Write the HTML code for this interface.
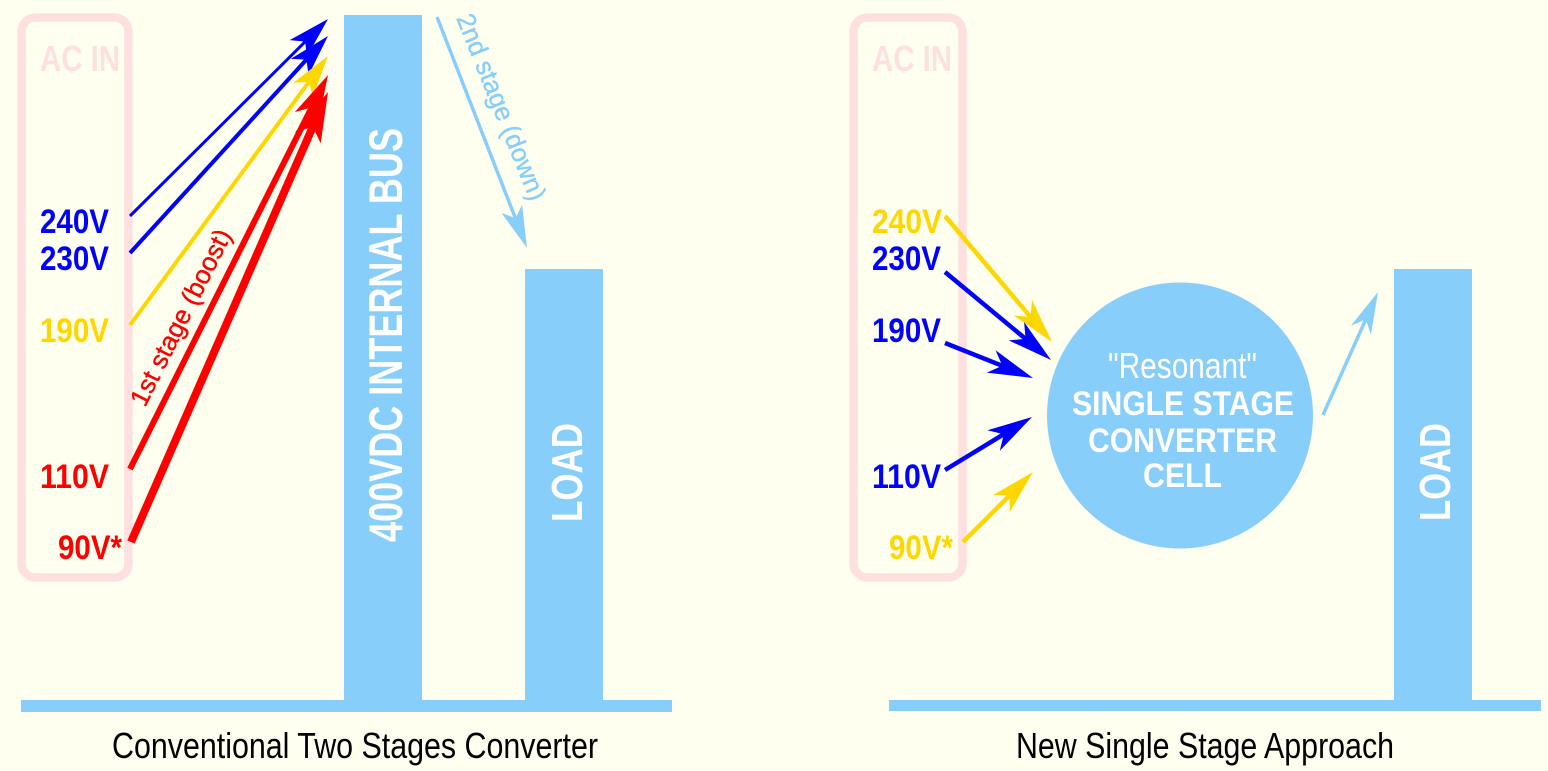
<!DOCTYPE html>
<html>
<head>
<meta charset="utf-8">
<style>
html,body{margin:0;padding:0;background:#FFFFF0;}
svg{display:block;}
text{font-family:"Liberation Sans",Arial,sans-serif;}
</style>
</head>
<body>
<svg width="1548" height="771" viewBox="0 0 1548 771" xmlns="http://www.w3.org/2000/svg">
<rect x="0" y="0" width="1548" height="771" fill="#FFFFF0"/>

<!-- ===== LEFT PANEL ===== -->
<rect x="21.5" y="17.5" width="107" height="560" rx="14" ry="14" fill="none" stroke="#FFE0E0" stroke-width="8.5"/>
<text x="40" y="71" font-size="36" font-weight="bold" fill="#FFE0E0" textLength="80" lengthAdjust="spacingAndGlyphs">AC IN</text>

<rect x="21" y="700" width="651" height="12" fill="#87CEFA"/>
<rect x="344" y="15" width="78" height="690" fill="#87CEFA"/>
<rect x="525" y="269" width="78" height="436" fill="#87CEFA"/>
<text transform="translate(402,542) rotate(-90)" x="0" y="0" font-size="47" font-weight="bold" fill="#FFFFFF" textLength="414" lengthAdjust="spacingAndGlyphs">400VDC INTERNAL BUS</text>
<text transform="translate(582,522) rotate(-90)" x="0" y="0" font-size="44" font-weight="bold" fill="#FFFFFF" textLength="99" lengthAdjust="spacingAndGlyphs">LOAD</text>

<text x="40" y="233" font-size="34" font-weight="bold" fill="#0000FF" textLength="69" lengthAdjust="spacingAndGlyphs">240V</text>
<text x="40" y="270" font-size="34" font-weight="bold" fill="#0000FF" textLength="69" lengthAdjust="spacingAndGlyphs">230V</text>
<text x="40" y="342" font-size="34" font-weight="bold" fill="#FFD700" textLength="69" lengthAdjust="spacingAndGlyphs">190V</text>
<text x="40" y="488" font-size="34" font-weight="bold" fill="#FF0000" textLength="69" lengthAdjust="spacingAndGlyphs">110V</text>
<text x="58" y="559" font-size="34" font-weight="bold" fill="#FF0000" textLength="64" lengthAdjust="spacingAndGlyphs">90V*</text>

<line x1="130" y1="216" x2="305.3" y2="41.6" stroke="#0000FF" stroke-width="3"/>
<polygon points="328,19 289.7,40.1 305.3,41.6 306.7,57.1" fill="#0000FF"/>

<line x1="130" y1="253" x2="306.4" y2="59.6" stroke="#0000FF" stroke-width="4"/>
<polygon points="328,36 290.8,58.9 306.4,59.6 308.6,75.1" fill="#0000FF"/>

<line x1="130" y1="325" x2="309" y2="81.8" stroke="#FFD700" stroke-width="4"/>
<polygon points="328,56 293.4,82.7 309,81.8 312.8,96.9" fill="#FFD700"/>

<line x1="130" y1="469" x2="311.8" y2="107.2" stroke="#FF0000" stroke-width="6"/>
<polygon points="328,75 294.8,112.1 311.8,107.2 318,123.7" fill="#FF0000"/>

<line x1="131" y1="542" x2="312.8" y2="126.8" stroke="#FF0000" stroke-width="8"/>
<polygon points="328,92 295.1,132.2 312.8,126.8 320.7,143.4" fill="#FF0000"/>

<text transform="translate(145,408) rotate(-63.3)" x="0" y="0" font-size="26" fill="#FF0000" stroke="#FF0000" stroke-width="0.4" textLength="194" lengthAdjust="spacingAndGlyphs">1st stage (boost)</text>

<line x1="437" y1="17" x2="515.4" y2="218.2" stroke="#87CEFA" stroke-width="3.5"/>
<polygon points="527,248 522.1,204.9 515.4,218.2 501.5,212.9" fill="#87CEFA"/>
<text transform="translate(456,18) rotate(68)" x="0" y="0" font-size="26" fill="#87CEFA" stroke="#87CEFA" stroke-width="0.4" textLength="199" lengthAdjust="spacingAndGlyphs">2nd stage (down)</text>

<text x="112" y="758" font-size="36" fill="#000000" textLength="486" lengthAdjust="spacingAndGlyphs">Conventional Two Stages Converter</text>

<!-- ===== RIGHT PANEL ===== -->
<rect x="853.5" y="17.5" width="109" height="560" rx="14" ry="14" fill="none" stroke="#FFE0E0" stroke-width="8.5"/>
<text x="872" y="71" font-size="36" font-weight="bold" fill="#FFE0E0" textLength="80" lengthAdjust="spacingAndGlyphs">AC IN</text>

<rect x="889" y="700" width="652" height="11" fill="#87CEFA"/>
<rect x="1394" y="269" width="78" height="436" fill="#87CEFA"/>
<text transform="translate(1450,521) rotate(-90)" x="0" y="0" font-size="44" font-weight="bold" fill="#FFFFFF" textLength="98" lengthAdjust="spacingAndGlyphs">LOAD</text>

<circle cx="1180" cy="415.5" r="133" fill="#87CEFA"/>
<text x="1108" y="378" font-size="36" fill="#FFFFFF" textLength="149" lengthAdjust="spacingAndGlyphs">"Resonant"</text>
<text x="1072" y="415" font-size="34" font-weight="bold" fill="#FFFFFF" textLength="222" lengthAdjust="spacingAndGlyphs">SINGLE STAGE</text>
<text x="1088" y="452" font-size="34" font-weight="bold" fill="#FFFFFF" textLength="189" lengthAdjust="spacingAndGlyphs">CONVERTER</text>
<text x="1143" y="487" font-size="34" font-weight="bold" fill="#FFFFFF" textLength="79" lengthAdjust="spacingAndGlyphs">CELL</text>

<text x="872" y="233" font-size="34" font-weight="bold" fill="#FFD700" textLength="70" lengthAdjust="spacingAndGlyphs">240V</text>
<text x="872" y="270" font-size="34" font-weight="bold" fill="#0000FF" textLength="69" lengthAdjust="spacingAndGlyphs">230V</text>
<text x="872" y="342" font-size="34" font-weight="bold" fill="#0000FF" textLength="69" lengthAdjust="spacingAndGlyphs">190V</text>
<text x="872" y="488" font-size="34" font-weight="bold" fill="#0000FF" textLength="69" lengthAdjust="spacingAndGlyphs">110V</text>
<text x="889" y="559" font-size="34" font-weight="bold" fill="#FFD700" textLength="64" lengthAdjust="spacingAndGlyphs">90V*</text>

<line x1="945" y1="216" x2="1030.6" y2="316.9" stroke="#FFD700" stroke-width="4.5"/>
<polygon points="1052,342 1032,299.9 1030.6,316.9 1013.7,315.5" fill="#FFD700"/>

<line x1="945" y1="272" x2="1025.6" y2="338.9" stroke="#0000FF" stroke-width="4.5"/>
<polygon points="1051,360 1024.1,322 1025.6,338.9 1008.7,340.4" fill="#0000FF"/>

<line x1="945" y1="343" x2="1002.3" y2="365.8" stroke="#0000FF" stroke-width="4.5"/>
<polygon points="1033,378 995.6,350.3 1002.3,365.8 986.8,372.6" fill="#0000FF"/>

<line x1="945" y1="470" x2="1003.8" y2="434.2" stroke="#0000FF" stroke-width="4.5"/>
<polygon points="1032,417 987.4,430.2 1003.8,434.2 999.8,450.7" fill="#0000FF"/>

<line x1="963" y1="542" x2="1009.7" y2="495.3" stroke="#FFD700" stroke-width="4.5"/>
<polygon points="1033,472 992.7,495.3 1009.7,495.3 1009.7,512.3" fill="#FFD700"/>

<line x1="1323" y1="415" x2="1365.8" y2="319.4" stroke="#87CEFA" stroke-width="3.5"/>
<polygon points="1378,292 1350.9,325.8 1365.8,319.4 1370.9,334.8" fill="#87CEFA"/>

<text x="1016" y="758" font-size="36" fill="#000000" textLength="378" lengthAdjust="spacingAndGlyphs">New Single Stage Approach</text>
</svg>
</body>
</html>
